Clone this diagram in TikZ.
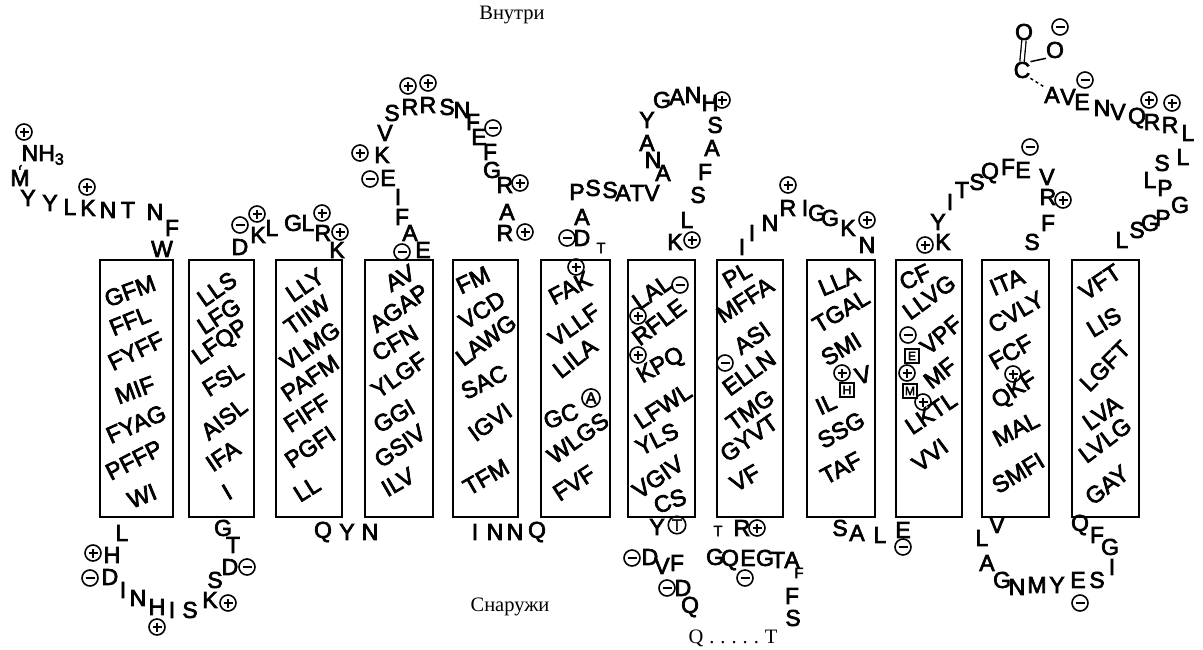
\documentclass[tikz,border=0pt]{standalone}
\usepackage{fontspec}
\newfontfamily\hand[FakeBold=3]{Liberation Sans}
\newfontfamily\labf{Liberation Serif}
\begin{document}
\begin{tikzpicture}[x=1pt,y=-1pt,
 aa/.style={font=\hand\fontsize{23}{23}\selectfont, inner sep=0pt},
 sm/.style={font=\hand\fontsize{15}{15}\selectfont, inner sep=0pt},
 row/.style={font=\hand\fontsize{23.5}{23.5}\selectfont, inner sep=0pt},
 tm/.style={draw, line width=2.2pt, inner sep=0pt},
 chg/.style={circle, draw, line width=1.6pt, minimum size=16pt, inner sep=0pt},
 plus/.style={chg, path picture={\draw[line width=1.5pt] ([xshift=-4.5pt]path picture bounding box.center) -- ([xshift=4.5pt]path picture bounding box.center) ([yshift=-4.5pt]path picture bounding box.center) -- ([yshift=4.5pt]path picture bounding box.center);}},
 minus/.style={chg, path picture={\draw[line width=1.5pt] ([xshift=-4.5pt]path picture bounding box.center) -- ([xshift=4.5pt]path picture bounding box.center);}},
 circl/.style={circle, draw, line width=1.6pt, inner sep=1pt, font=\hand\fontsize{16}{16}\selectfont},
 boxl/.style={draw, line width=1.4pt, inner sep=1.2pt, minimum size=14pt, font=\hand\fontsize{12}{12}\selectfont},
 lab/.style={font=\labf\fontsize{20.5}{20.5}\selectfont, inner sep=0pt}
]
\useasboundingbox (0,0) rectangle (1203,649);

% transmembrane boxes
\foreach \cx/\w [count=\i] in {136.5/73, 221.5/65, 309/66, 399/68, 485.5/65, 575.5/69, 661.5/67, 750/66, 841/68, 929/66, 1015.5/67, 1105.5/67}
  \node[tm, minimum width=\w pt, minimum height=257pt] (b\i) at (\cx,388.5) {};

% rows inside boxes
\foreach \txt/\xx/\yy/\ang [count=\i] in {
 GFM/130/291/20, FFL/130/321/22, FYFF/136/351/26, MIF/135/390/20, FYAG/136/424/24, PFFP/134/460/27, WI/142/496/22,
 LLS/217/289/35, LFG/219/316/33, LFQP/221/343/35, FSL/223/379/32, AISL/224/419/38, IFA/223/456/34, I/227/492/30,
 LLY/305/285/34, TIIW/307/315/35, VLMG/310/346/35, PAFM/310/378/34, FIFF/307/413/33, PGFI/310/447/34, LL/307/489/32,
 AV/400/278/30, AGAP/399/308/35, CFN/395/343/30, YLGF/399/375/35, GGI/394/416/30, GSIV/400/446/35, ILV/398/482/30,
 FM/473/280/25, VCD/482/310/33, LAWG/486/340/37, SAC/484/382/27, IGVI/490/422/36, TFM/486/477/30,
 FAK/570/288/28, VLLF/574/325/35, LILA/575/358/38, GC/561/416/20, WLGS/578/438/36, FVF/574/483/33,
 LAL/652/292/35, RFLE/659/322/37, KPQ/661/366/30, LFWL/663/406/33, YLS/657/439/27, VGIV/658/477/35, CS/670/501/20,
 PL/737/275/30, MFFA/745/300/33, ASI/752/338/35, ELLN/749/373/36, TMG/750/410/36, GYVT/749/438/35, VF/745/478/30,
 LLA/839/281/23, TGAL/841/311/31, SMI/841/349/31, V/863/375/15, IL/826/404/25, SSG/841/430/30, TAF/841/468/28,
 CF/915/277/25, LLVG/929/297/36, VPF/941/335/40, MF/940/373/38, LKTL/931/413/34, VVI/930/455/37,
 ITA/1007/282/23, CVLY/1016/312/30, FCF/1011/352/30, QKF/1015/391/33, MAL/1016/429/27, SMFI/1018/473/31,
 VFT/1100/282/34, LIS/1104/322/31, LGFT/1105/366/45, LVA/1102/413/35, LVLG/1105/440/37, GAY/1107/485/38}
  \node[row, rotate=\ang] (r\i) at (\xx,\yy) {\txt};

% special letters inside boxes
\node[circl] (cA) at (591,398) {A};
\node[boxl] (bH) at (847,390) {H};
\node[boxl] (bE) at (912,356) {E};
\node[boxl] (bM) at (910,391) {M};

% loop letters
\foreach \txt/\xx/\yy [count=\i] in {
 M/20/178, Y/28/198, Y/50/203, L/70/207, K/88/208, N/108/210, T/128/210, N/155/212, F/172/228, W/162/249,
 D/240/247, K/258/235, L/272/228, G/293/223, L/308/223, R/323/233, K/337/250,
 E/423/250, A/410/233, F/402/217, I/398/197, E/388/178, K/382/155, V/385/133, S/392/113, R/410/107, R/428/105,
 S/447/107, N/462/110, F/473/122, E/479/137, F/490/152, G/492/170, R/505/185, A/507/212, R/505/233,
 D/582/238, A/582/217, P/577/192, S/593/188, S/610/190, A/623/193, T/637/193, V/652/193, A/663/173, N/653/160,
 A/647/143, Y/647/120, G/662/100, A/677/97, N/693/95, H/710/103, S/715/125, A/712/148, F/705/172, S/698/195,
 L/687/220, K/675/242,
 I/742/247, I/752/233, N/770/223, R/788/208, I/805/208, G/817/213, G/830/218, K/848/228, N/867/245,
 K/943/242, Y/938/222, I/950/202, T/962/190, S/977/182, Q/990/173, F/1008/167, E/1023/170, V/1047/177,
 R/1048/197, F/1048/223, S/1032/242,
 L/1122/240, S/1137/230, G/1150/223, P/1163/218, G/1180/205, P/1165/188, L/1150/180, S/1162/163, L/1183/157,
 L/1188/133, R/1170/125, R/1152/122, Q/1137/118, V/1118/112, N/1102/108, E/1082/102, V/1068/97,
 L/122/533, H/112/555, D/110/577, I/123/590, N/138/598, H/157/607, I/172/610, S/190/610, K/210/600, S/215/580,
 D/230/567, T/233/545, G/223/528,
 Q/323/532, Y/347/532, N/370/532,
 I/475/532, N/495/532, N/515/532, Q/537/532,
 Y/657/527, D/650/557, V/662/566, F/677/563, D/683/588, Q/690/607, S/793/618, F/792/596, A/792/560, T/778/560,
 G/765/558, E/748/558, Q/730/560, G/715/557, R/742/528,
 S/840/528, A/857/533, L/880/535, E/903/530,
 V/997/525, L/982/538, A/987/563, G/1002/580, N/1017/587, M/1037/585, Y/1057/585, E/1078/580, S/1097/580,
 I/1112/567, G/1110/547, F/1097/535, Q/1080/525}
  \node[aa] (a\i) at (\xx,\yy) {\txt};

% small letters
\node[sm] (sT1) at (601,248) {T};
\node[sm] (sT2) at (718,531) {T};
\node[sm] (sF1) at (799,573) {F};
\node[circl] (cT) at (677,525) {T};

% N-terminus
\node[aa] (nh) at (43,155) {NH\textsubscript{3}};
\draw[line width=1.5pt] (a1.north) to[bend left=40] (nh.south west);

% C-terminus
\node[aa] (ctA) at (1052,95) {A};
\node[aa] (cC) at (1022,70) {C};
\node[aa] (o1) at (1024,32) {O};
\node[aa] (o2) at (1055,50) {O};
\draw[line width=1.3pt, double distance=3pt] (cC.north) -- (o1.south);
\draw[line width=1.5pt] (cC.north east) -- (o2.south west);
\draw[line width=1.5pt, dashed] (cC.south east) -- (ctA.north west);

% charges
\foreach \xx/\yy [count=\i] in {24/132, 87/187, 257/214, 322/213, 340/232, 360/153, 408/86, 428/83, 520/183, 525/232,
 722/100, 692/240, 576/267, 638/316, 638/355, 867/220, 788/185, 842/373, 907/373, 923/402, 925/245, 1013/374,
 1063/200, 1149/100, 1172/103, 93/553, 157/627, 228/603, 757/528}
  \node[plus] (p\i) at (\xx,\yy) {};
\foreach \xx/\yy [count=\i] in {240/225, 402/252, 370/179, 493/128, 567/238, 680/285, 725/363, 908/335, 1030/147,
 1085/80, 1060/27, 90/578, 247/567, 632/558, 667/588, 745/578, 903/547, 1080/603}
  \node[minus] (m\i) at (\xx,\yy) {};

% labels
\node[lab] (inside) at (512,15) {Внутри};
\node[lab] (outside) at (510,607) {Снаружи};
\node[lab] (qt) at (733,638) {Q\hspace{6pt}.\hspace{6pt}.\hspace{6pt}.\hspace{6pt}.\hspace{6pt}.\hspace{6pt}T};
\end{tikzpicture}
\end{document}
